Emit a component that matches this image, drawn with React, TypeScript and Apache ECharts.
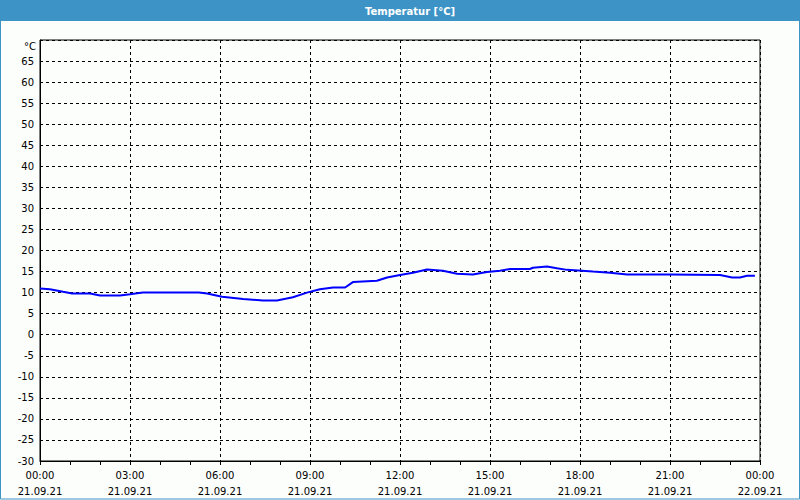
import React, { useEffect, useRef } from "react";
import * as echarts from "echarts";

const hours = [0, 0.33, 0.77, 1.07, 1.67, 2.0, 2.67, 3.0, 3.43, 4.9, 5.3, 5.57, 6.07, 6.77, 7.43, 7.9, 8.43, 8.9, 9.33, 9.77, 10.17, 10.43, 11.23, 11.57, 12.0, 12.43, 12.9, 13.43, 13.9, 14.43, 14.9, 15.33, 15.67, 16.33, 16.43, 16.9, 17.23, 17.57, 18.07, 18.43, 19.0, 19.57, 21.0, 22.67, 23.07, 23.33, 23.57, 23.83];
const temps = [11.0, 10.8, 10.2, 9.8, 9.8, 9.3, 9.3, 9.6, 10.0, 10.0, 10.0, 9.8, 9.0, 8.5, 8.1, 8.1, 8.9, 10.0, 10.8, 11.2, 11.2, 12.5, 12.8, 13.6, 14.2, 14.7, 15.5, 15.2, 14.5, 14.3, 14.9, 15.2, 15.6, 15.6, 15.9, 16.2, 15.8, 15.4, 15.2, 15.0, 14.7, 14.3, 14.3, 14.2, 13.6, 13.6, 14.0, 14.0];
const timeLabels = ["00:00", "03:00", "06:00", "09:00", "12:00", "15:00", "18:00", "21:00", "00:00"];
const dateLabels = ["21.09.21", "21.09.21", "21.09.21", "21.09.21", "21.09.21", "21.09.21", "21.09.21", "21.09.21", "22.09.21"];
const titleText = "Temperatur [°C]";
const unitText = "°C";

const FONT = "DejaVu Sans";

export default function App() {
  const ref = useRef<HTMLDivElement>(null);
  useEffect(() => {
    const chart = echarts.init(ref.current!, null, { renderer: "svg" });
    const data = hours.map((h, i) => [h, temps[i]]);
    chart.setOption({
      animation: false,
      backgroundColor: "#fcfefc",
      textStyle: { fontFamily: FONT },
      grid: { left: 40, right: 40, top: 40, bottom: 39, show: true, borderColor: "#000", borderWidth: 1, backgroundColor: "transparent" },
      graphic: [
        { type: "rect", shape: { x: 0, y: 0, width: 800, height: 21 }, style: { fill: "#3d93c6" }, z: 0 },
        { type: "rect", shape: { x: 0.5, y: 0.5, width: 799, height: 498.5 }, style: { fill: "none", stroke: "#3d93c6", lineWidth: 1 }, z: 0 },
        { type: "text", x: 410, y: 11, style: { text: titleText, fill: "#fff", font: `bold 10px "${FONT}"`, align: "center", verticalAlign: "middle" }, z: 10 },
        { type: "text", x: 36, y: 46, style: { text: unitText, fill: "#000", font: `10px "${FONT}"`, align: "right", verticalAlign: "middle" }, z: 10 },
      ],
      xAxis: {
        type: "value",
        min: 0,
        max: 24,
        interval: 3,
        axisLine: { show: true, onZero: false, lineStyle: { color: "#000", width: 1 } },
        axisTick: { show: true, length: 4, lineStyle: { color: "#000" } },
        minorTick: { show: true, splitNumber: 3, length: 4, lineStyle: { color: "#000" } },
        splitLine: { show: true, lineStyle: { color: "#000", type: [3, 3], width: 1 } },
        axisLabel: {
          color: "#000",
          fontSize: 10,
          fontFamily: FONT,
          lineHeight: 16,
          margin: 6,
          showMinLabel: true,
          showMaxLabel: true,
          formatter: (v: number) => {
            const i = Math.round(v / 3);
            return `${timeLabels[i]}\n${dateLabels[i]}`;
          },
        },
      },
      yAxis: {
        type: "value",
        min: -30,
        max: 70,
        interval: 5,
        axisLine: { show: true, onZero: false, lineStyle: { color: "#000", width: 1 } },
        axisTick: { show: false },
        splitLine: { show: true, lineStyle: { color: "#000", type: [3, 3], width: 1 } },
        axisLabel: {
          color: "#000",
          fontSize: 10,
          fontFamily: FONT,
          margin: 6,
          padding: [3, 0, 0, 0],
          formatter: (v: number) => (v === 70 ? "" : String(v)),
        },
      },
      series: [
        {
          type: "line",
          data,
          showSymbol: false,
          symbol: "none",
          smooth: false,
          lineStyle: { color: "#0000ff", width: 2 },
          z: 5,
        },
      ],
    });
    return () => chart.dispose();
  }, []);
  return <div ref={ref} style={{ position: "fixed", left: 0, top: 0, width: 800, height: 500 }} />;
}
